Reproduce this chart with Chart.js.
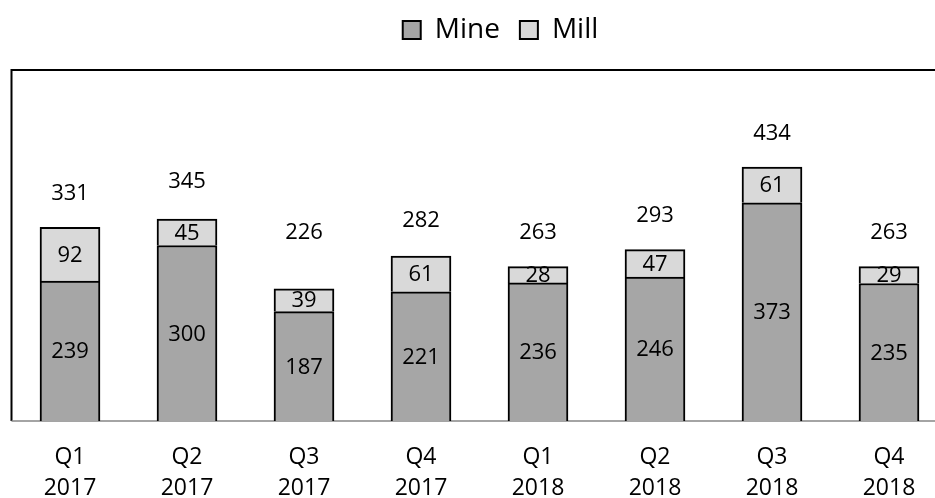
<!DOCTYPE html>
<html>
<head>
<meta charset="utf-8">
<script src="https://cdn.jsdelivr.net/npm/chart.js@4/dist/chart.umd.min.js"></script>
<style>
    html, body { margin: 0; padding: 0; background: #fff; overflow: hidden; }
    #wrap { width: 948px; height: 498px; }
</style>
</head>
<body>
<div id="wrap"><canvas id="mineChart"></canvas></div>
<script>
// Дані графіка
const quarters = [['Q1', '2017'], ['Q2', '2017'], ['Q3', '2017'], ['Q4', '2017'],
                  ['Q1', '2018'], ['Q2', '2018'], ['Q3', '2018'], ['Q4', '2018']];
const mineValues = [239, 300, 187, 221, 236, 246, 373, 235];
const millValues = [92, 45, 39, 61, 28, 47, 61, 29];
const totalValues = [331, 345, 226, 282, 263, 293, 434, 263];

// Відступ підписів сум над стовпцями (px)
const totalLift = [34, 37, 56, 35, 34, 34, 33, 34];

const FONT = '"Open Sans", sans-serif';
const LABEL_SIZE = 22;

// Рамка області графіка
const framePlugin = {
    id: 'frame',
    beforeDatasetsDraw(chart) {
        const { ctx, chartArea: a } = chart;
        ctx.save();
        ctx.strokeStyle = '#000';
        ctx.lineWidth = 2;
        ctx.beginPath();
        ctx.moveTo(a.left, a.bottom);
        ctx.lineTo(a.left, a.top);
        ctx.lineTo(a.right, a.top);
        ctx.lineTo(a.right, a.bottom);
        ctx.stroke();
        ctx.strokeStyle = '#868686';
        ctx.lineWidth = 1.5;
        ctx.beginPath();
        ctx.moveTo(a.left, a.bottom);
        ctx.lineTo(a.right, a.bottom);
        ctx.stroke();
        ctx.restore();
    }
};

// Проміжок під легендою та зсув легенди праворуч
const legendTweak = {
    id: 'legendTweak',
    beforeInit(chart) {
        const legend = chart.legend;
        const fit = legend.fit;
        const draw = legend.draw;
        legend.fit = function () {
            fit.call(this);
            this.height += 16;
        };
        legend.draw = function () {
            this.ctx.save();
            this.ctx.translate(21, 0);
            draw.call(this);
            this.ctx.restore();
        };
    }
};

// Підписи значень у сегментах та суми над стовпцями
const labelsPlugin = {
    id: 'barLabels',
    afterDatasetsDraw(chart) {
        const { ctx } = chart;
        ctx.save();
        ctx.font = LABEL_SIZE + 'px ' + FONT;
        ctx.fillStyle = '#000';
        ctx.textAlign = 'center';
        ctx.textBaseline = 'middle';
        chart.data.datasets.forEach((ds, di) => {
            chart.getDatasetMeta(di).data.forEach((bar, i) => {
                ctx.fillText(ds.data[i], bar.x, (bar.y + bar.base) / 2 + 1);
            });
        });
        chart.getDatasetMeta(1).data.forEach((bar, i) => {
            const y = chart.scales.y.getPixelForValue(totalValues[i]);
            ctx.fillText(totalValues[i], bar.x, y - totalLift[i]);
        });
        ctx.restore();
    }
};

const ctx = document.getElementById('mineChart').getContext('2d');

new Chart(ctx, {
    type: 'bar',
    data: {
        labels: quarters,
        datasets: [{
            label: 'Mine',
            data: mineValues,
            backgroundColor: '#A6A6A6',
            borderColor: '#000',
            borderWidth: 2,
            borderSkipped: 'bottom'
        }, {
            label: 'Mill',
            data: millValues,
            backgroundColor: '#D9D9D9',
            borderColor: '#000',
            borderWidth: 2,
            borderSkipped: 'bottom'
        }]
    },
    options: {
        responsive: true,
        maintainAspectRatio: false,
        animation: false,
        datasets: {
            bar: { barThickness: 60 }
        },
        layout: {
            padding: { left: 11.5, right: 0.5, top: -4, bottom: 0 }
        },
        plugins: {
            legend: {
                display: true,
                labels: {
                    color: '#000',
                    boxWidth: 18,
                    boxHeight: 18,
                    padding: 20,
                    font: { family: FONT, size: 28 }
                }
            },
            tooltip: { enabled: false }
        },
        scales: {
            x: {
                stacked: true,
                grid: { display: false, drawTicks: false },
                border: { display: false },
                afterFit(scale) { scale.height = 77; },
                ticks: {
                    color: '#000',
                    padding: 21,
                    maxRotation: 0,
                    font: { family: FONT, size: 23, lineHeight: 1.35 }
                }
            },
            y: {
                stacked: true,
                display: false,
                min: 0,
                max: 600
            }
        }
    },
    plugins: [framePlugin, legendTweak, labelsPlugin]
});
</script>
</body>
</html>
